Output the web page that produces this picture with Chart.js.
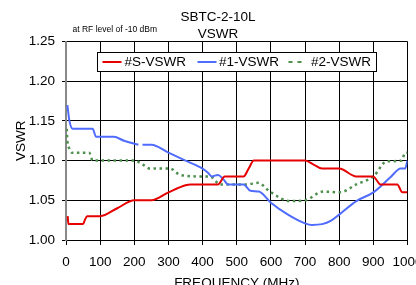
<!DOCTYPE html>
<html>
<head>
<meta charset="utf-8">
<script src="https://cdn.jsdelivr.net/npm/chart.js@4/dist/chart.umd.min.js"></script>
<style>
  html, body { margin: 0; padding: 0; overflow: hidden; background: #fff; }
  #wrap { position: absolute; left: 0; top: 0; width: 436px; height: 300px; }
</style>
</head>
<body>
<div id="wrap"><canvas id="c" width="436" height="300"></canvas></div>
<script>
// ---- data ----
const chartTitle = ["SBTC-2-10L", "VSWR"];
const noteText = "at RF level of -10 dBm";
const xTitle = "FREQUENCY (MHz)";
const yTitle = "VSWR";
const seriesNames = ["#S-VSWR", "#1-VSWR", "#2-VSWR"];

const sFreq = [5, 7, 50, 55, 62, 100, 150, 200, 250, 300, 350, 365, 400, 445, 465, 520, 535, 550, 600, 700, 725, 750, 800, 850, 900, 910, 920, 970, 985, 1000];
const sVswr = [1.03, 1.02, 1.02, 1.025, 1.03, 1.03, 1.04, 1.05, 1.05, 1.06, 1.069, 1.07, 1.07, 1.07, 1.08, 1.08, 1.09, 1.10, 1.10, 1.10, 1.095, 1.09, 1.09, 1.08, 1.08, 1.075, 1.07, 1.07, 1.06, 1.06];

const oneFreq = [4, 10, 20, 40, 78, 88, 100, 140, 170, 212, 218, 224, 250, 300, 350, 400, 415, 427, 445, 460, 475, 520, 540, 565, 600, 650, 700, 720, 750, 775, 800, 850, 900, 950, 980, 993, 1000];
const oneVswr = [1.17, 1.15, 1.14, 1.14, 1.14, 1.13, 1.13, 1.13, 1.125, 1.12, null, 1.12, 1.12, 1.11, 1.10, 1.09, 1.085, 1.08, 1.082, 1.077, 1.07, 1.07, 1.062, 1.061, 1.047, 1.032, 1.021, 1.019, 1.02, 1.024, 1.032, 1.049, 1.06, 1.079, 1.09, 1.09, 1.10];

const twoFreq = [2, 4, 10, 17, 68, 78, 150, 200, 225, 246, 305, 334, 400, 422, 451, 529, 563, 597, 656, 700, 753, 802, 850, 900, 939, 983, 993, 1000];
const twoVswr = [1.14, 1.125, 1.115, 1.11, 1.11, 1.10, 1.10, 1.10, 1.095, 1.09, 1.09, 1.082, 1.08, 1.08, 1.07, 1.07, 1.072, 1.061, 1.049, 1.05, 1.061, 1.06, 1.07, 1.08, 1.099, 1.10, 1.11, 1.11];

const xMin = 0, xMax = 1000, xStep = 100;
const yMin = 1.00, yMax = 1.25, yStep = 0.05;

// ---- styles ----
const FONT = "'Liberation Sans', Arial, sans-serif";
const colors = ["#e60000", "#4f6cff", "#4e8f4e"];

function pts(xs, ys) { return xs.map((x, i) => ({ x: x, y: ys[i] })); }

const overlay = {
  id: 'overlay',
  afterDraw(chart) {
    const ctx = chart.ctx;
    ctx.save();
    ctx.fillStyle = '#000';
    ctx.textAlign = 'center';
    ctx.textBaseline = 'alphabetic';
    ctx.font = "13.5px " + FONT;
    ctx.fillText(chartTitle[0], 218, 21);
    ctx.fillText(chartTitle[1], 218, 37.5);
    ctx.textAlign = 'left';
    ctx.font = "8.5px " + FONT;
    ctx.fillText(noteText, 72.5, 32);

    // legend box
    const bx = 97.5, by = 52.5, bw = 279, bh = 19;
    ctx.fillStyle = '#fff';
    ctx.fillRect(bx, by, bw, bh);
    ctx.strokeStyle = '#000';
    ctx.lineWidth = 1;
    ctx.strokeRect(bx, by, bw, bh);
    const items = [
      { x0: 102.5, x1: 121.5, tx: 124.5 },
      { x0: 197.5, x1: 216.5, tx: 219 },
      { x0: 288.5, x1: 306.5, tx: 311 }
    ];
    const cy = by + bh / 2;
    ctx.font = "13.5px " + FONT;
    ctx.textBaseline = 'middle';
    items.forEach((it, i) => {
      ctx.beginPath();
      ctx.strokeStyle = colors[i];
      ctx.lineWidth = 2;
      ctx.setLineDash(i === 2 ? [4, 5] : []);
      ctx.moveTo(it.x0, cy);
      ctx.lineTo(it.x1, cy);
      ctx.stroke();
      ctx.setLineDash([]);
      ctx.fillStyle = '#000';
      ctx.fillText(seriesNames[i], it.tx, cy + 0.5);
    });
    ctx.restore();
  }
};

new Chart(document.getElementById('c'), {
  type: 'line',
  data: {
    datasets: [
      { label: seriesNames[0], data: pts(sFreq, sVswr), borderColor: colors[0], borderWidth: 2, pointRadius: 0, cubicInterpolationMode: 'monotone', fill: false },
      { label: seriesNames[1], data: pts(oneFreq, oneVswr), borderColor: colors[1], borderWidth: 2, pointRadius: 0, cubicInterpolationMode: 'monotone', fill: false, spanGaps: false },
      { label: seriesNames[2], data: pts(twoFreq, twoVswr), borderColor: colors[2], borderWidth: 2.5, borderDash: [2.5, 3.5], pointRadius: 0, cubicInterpolationMode: 'monotone', fill: false }
    ]
  },
  options: {
    responsive: false,
    animation: false,
    events: [],
    layout: { padding: { left: 0, right: 28.5, top: 41.5, bottom: 0 } },
    plugins: { legend: { display: false }, title: { display: false }, tooltip: { enabled: false } },
    scales: {
      x: {
        type: 'linear', min: xMin, max: xMax,
        afterFit(s) { s.height = 60; },
        grid: { color: '#000', lineWidth: 1, tickLength: 5, tickColor: '#000' },
        border: { color: '#000', width: 1 },
        ticks: { stepSize: xStep, color: '#000', font: { family: FONT, size: 13.5 }, padding: 9, maxRotation: 0, autoSkip: false, callback: v => String(v) },
        title: { display: true, text: xTitle, color: '#000', font: { family: FONT, size: 13.5 }, padding: { top: 0, bottom: 9 } }
      },
      y: {
        type: 'linear', min: yMin, max: yMax,
        afterFit(s) { s.width = 66; },
        grid: { color: '#000', lineWidth: 1, tickLength: 4, tickColor: '#000' },
        border: { color: '#888', width: 2 },
        ticks: { stepSize: yStep, color: '#000', font: { family: FONT, size: 13.5 }, padding: 7, callback: v => v.toFixed(2) },
        title: { display: true, text: yTitle, color: '#000', font: { family: FONT, size: 13.5 }, padding: { top: 13, bottom: 0 } }
      }
    }
  },
  plugins: [overlay]
});
</script>
</body>
</html>
